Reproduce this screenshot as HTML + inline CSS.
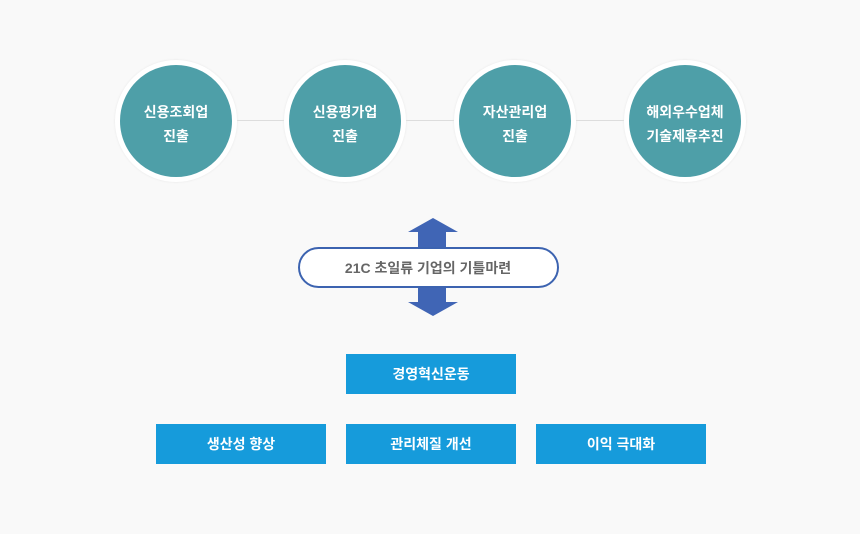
<!DOCTYPE html>
<html><head><meta charset="utf-8"><style>
body{margin:0;width:860px;height:534px;background:#f9f9f9;position:relative;overflow:hidden;font-family:"Liberation Sans","Noto Sans CJK KR",sans-serif}
.line{position:absolute;top:120px;height:1px;background:#ddd}
.c{position:absolute;top:60px;width:112px;height:112px;border-radius:50%;background:#4e9fa8;border:5px solid #fff;box-shadow:0 0 2px #e6e6e6;color:#fff;font-size:14px;font-weight:bold;line-height:24px;display:flex;align-items:center;justify-content:center;text-align:center;box-sizing:content-box}
.c span{position:relative;top:3px}
.b{position:absolute;width:170px;height:40px;background:#169bdb;color:#fff;font-size:14px;font-weight:bold;line-height:40px;text-align:center}
</style></head><body>
<div class="line" style="left:230px;width:400px"></div>
<div class="c" style="left:115px"><span>신용조회업<br>진출</span></div>
<div class="c" style="left:284px"><span>신용평가업<br>진출</span></div>
<div class="c" style="left:454px"><span>자산관리업<br>진출</span></div>
<div class="c" style="left:624px"><span>해외우수업체<br>기술제휴추진</span></div>
<svg style="position:absolute;left:0;top:0" width="860" height="534">
<polygon points="433,218 458,232 446,232 446,250 418,250 418,232 408,232" fill="#4065b5"/>
<polygon points="433,316 458,302 446,302 446,284 418,284 418,302 408,302" fill="#4065b5"/>
<rect x="299" y="248" width="259" height="39" rx="19.5" fill="#fff" stroke="#3c63b0" stroke-width="2"/>
<text x="428" y="273" text-anchor="middle" font-size="14" font-weight="bold" fill="#666" font-family="Liberation Sans, Noto Sans CJK KR, sans-serif">21C 초일류 기업의 기틀마련</text>
</svg>
<div class="b" style="left:346px;top:354px">경영혁신운동</div>
<div class="b" style="left:156px;top:424px">생산성 향상</div>
<div class="b" style="left:346px;top:424px">관리체질 개선</div>
<div class="b" style="left:536px;top:424px">이익 극대화</div>
</body></html>
